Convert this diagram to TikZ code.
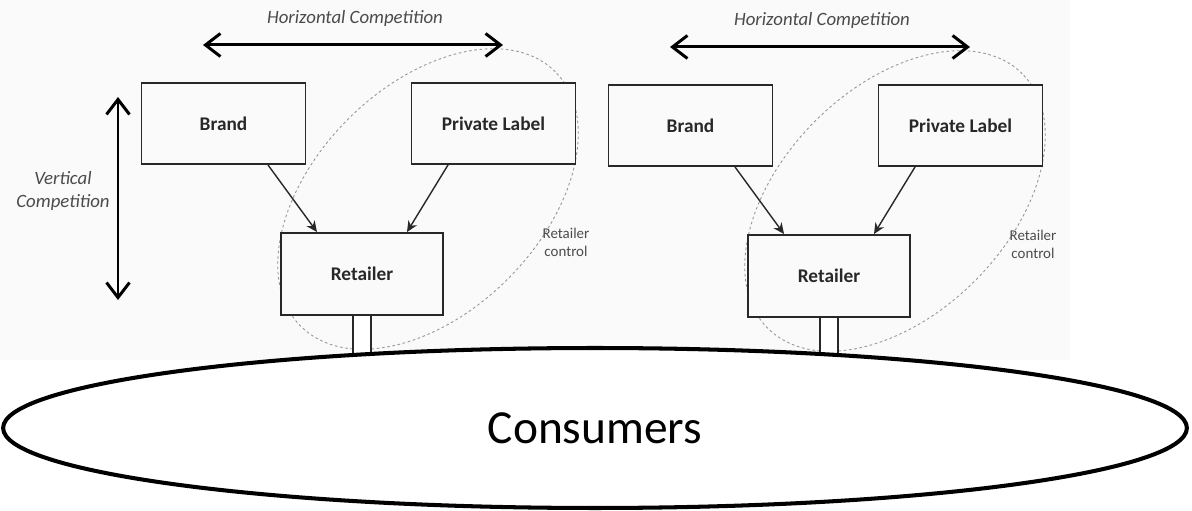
\documentclass[tikz,border=0pt]{standalone}
\usepackage{fontspec}
\setmainfont{Carlito}
\usetikzlibrary{arrows.meta,shapes.geometric,positioning}
\definecolor{BoxGray}{RGB}{40,40,40}
\definecolor{TextGray}{RGB}{75,75,75}
\definecolor{DotGray}{RGB}{150,150,150}
\definecolor{PaperGray}{RGB}{250,250,250}

\tikzset{
	party/.style={draw=BoxGray, fill=PaperGray, line width=1.1pt, minimum width=3.28cm, minimum height=1.62cm,
		font=\fontsize{11}{13}\selectfont\bfseries, text=BoxGray},
	supply/.style={-{Stealth[length=2.2mm,width=2mm]}, line width=0.8pt, BoxGray},
	rivalry/.style={{Straight Barb[length=3mm,width=4.6mm]}-{Straight Barb[length=3mm,width=4.6mm]}, line width=1.7pt},
	note/.style={font=\fontsize{10.7}{13}\selectfont\itshape, text=TextGray, align=center},
	control/.style={dash pattern=on 1.5pt off 1.5pt, DotGray, line width=0.5pt},
	feed/.style={double, double distance=0.33cm, line width=0.8pt, draw=BoxGray}
}

\begin{document}
\begin{tikzpicture}[x=0.02cm, y=0.02cm]
	\useasboundingbox (0,0) rectangle (1192,510);
	\fill[PaperGray] (0,150) rectangle (1070,510);
	
	% vertical competition (left panel only)
	\coordinate (vtop) at (118,413);
	\coordinate (vbot) at (118,210);
	\draw[rivalry] (vtop) -- (vbot);
	\node[note] (vlab) at (63,319) {Vertical\\Competition};
	
	% two panels: brand, private label, retailer
	\foreach \dx/\dy/\p in {0/0/L, 467/-2/R} {
		\begin{scope}[shift={(\dx,\dy)}]
			% retailer control
			\draw[control, rotate around={45:(428,311)}] (428,311) ellipse (3.6cm and 2.26cm);
			\node[note, font=\fontsize{8.5}{10.2}\selectfont, text=TextGray] (ctl\p) at (566,268) {Retailer\\control};
			
			\coordinate (hl\p) at (203,465);
			\coordinate (hr\p) at (503,465);
			\draw[rivalry] (hl\p) -- (hr\p);
			\node[note] (hlab\p) at (355,492) {Horizontal Competition};
			
			\node[party] (brand\p) at (223.5,386.5) {Brand};
			\node[party] (pl\p) at (493.5,386.5) {Private Label};
			\node[party, minimum width=3.24cm, minimum height=1.64cm] (ret\p) at (362,236) {Retailer};
			
			\draw[supply] ([xshift=0.89cm]brand\p.south) -- ([xshift=-0.9cm]ret\p.north);
			\draw[supply] ([xshift=-0.91cm]pl\p.south) -- ([xshift=0.9cm]ret\p.north);
			
			\coordinate (drop\p) at ([yshift=-1.2cm]ret\p.south);
			\draw[feed] (ret\p.south) -- (drop\p);
		\end{scope}
	}
	
	% consumers
	\node[ellipse, draw=black, fill=white, line width=2.3pt, minimum width=23.68cm, minimum height=3.2cm,
		font=\fontsize{27}{32}\selectfont] (cons) at (595,82) {Consumers};
\end{tikzpicture}
\end{document}
